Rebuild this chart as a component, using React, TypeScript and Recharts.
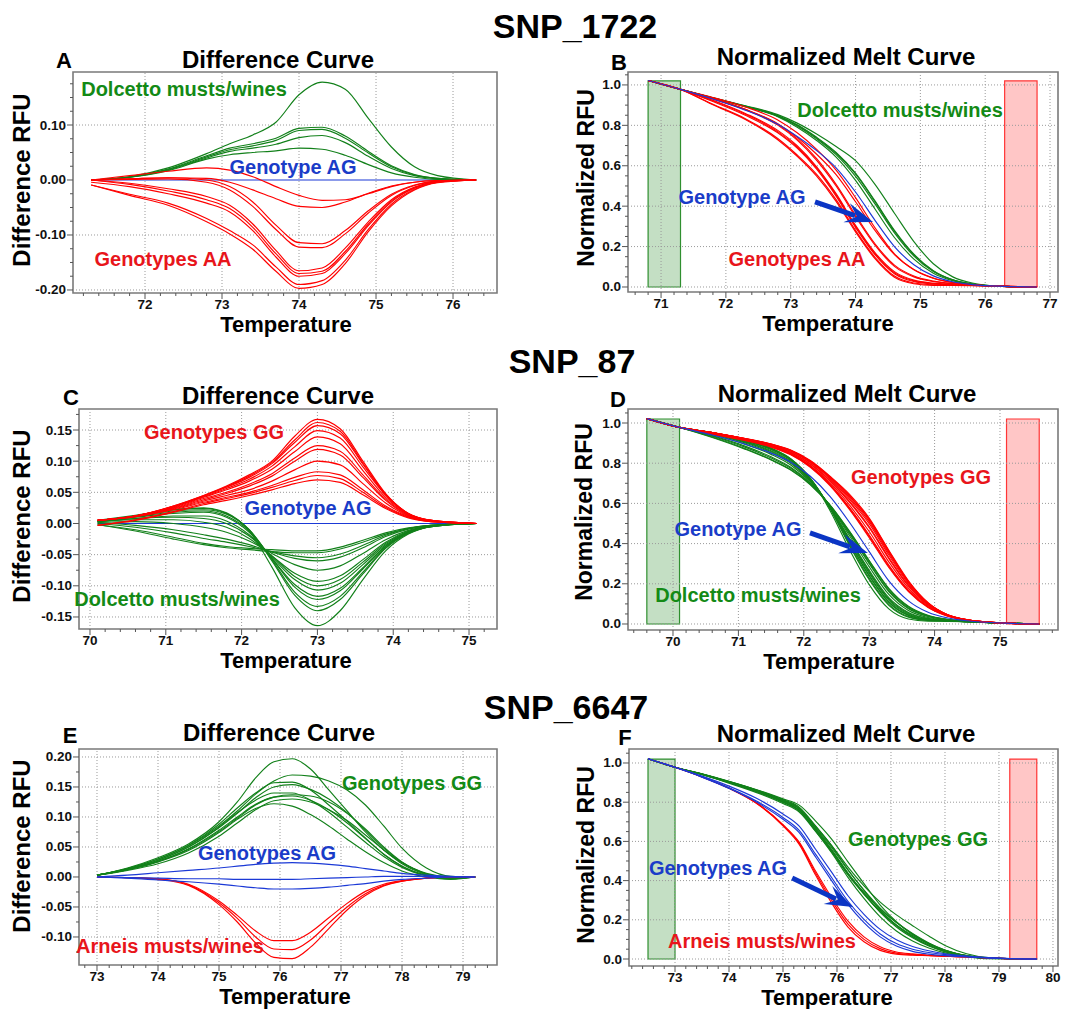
import React from 'react';
import { LineChart, Line, XAxis, YAxis, ReferenceLine, ReferenceArea } from 'recharts';

const FONT = "'Liberation Sans', Arial, Helvetica, sans-serif";
const GREEN = '#12801a';
const RED = '#ff0000';
const BLUE = '#1b39d6';
const GREEN_TXT = '#138a16';
const RED_TXT = '#e8151b';
const BLUE_TXT = '#1a3cc8';

// ================= SNP_1722 =================
const tempA = [71.3, 71.8, 72.3, 72.8, 73.1, 73.4, 73.7, 74.0, 74.3, 74.6, 74.9, 75.2, 75.5, 75.8, 76.3];
const agDiffA = [0, 0, 0, 0, 0, 0, 0, 0, 0, 0, 0, 0, 0, 0, 0];
const dolcettoDiffA = [
  [0, 0.006, 0.022, 0.048, 0.066, 0.082, 0.105, 0.155, 0.178, 0.165, 0.112, 0.060, 0.024, 0.008, 0],
  [0, 0.006, 0.020, 0.044, 0.058, 0.066, 0.076, 0.094, 0.096, 0.080, 0.052, 0.026, 0.010, 0.003, 0],
  [0, 0.005, 0.019, 0.042, 0.055, 0.062, 0.072, 0.090, 0.092, 0.076, 0.049, 0.024, 0.009, 0.003, 0],
  [0, 0.005, 0.018, 0.040, 0.052, 0.058, 0.065, 0.077, 0.081, 0.068, 0.043, 0.021, 0.008, 0.002, 0],
  [0, 0.005, 0.017, 0.038, 0.046, 0.050, 0.053, 0.058, 0.056, 0.045, 0.028, 0.013, 0.005, 0.001, 0],
];
const aaDiffA = [
  [0, 0.008, 0.016, 0.022, 0.018, 0.006, -0.012, -0.028, -0.037, -0.036, -0.025, -0.012, -0.004, -0.001, 0],
  [0, 0.002, 0.004, 0.003, -0.004, -0.018, -0.034, -0.048, -0.050, -0.040, -0.024, -0.011, -0.004, -0.001, 0],
  [0, 0.002, 0.004, 0.000, -0.012, -0.040, -0.082, -0.114, -0.116, -0.092, -0.056, -0.026, -0.009, -0.002, 0],
  [0, 0.001, 0.002, -0.004, -0.018, -0.048, -0.090, -0.122, -0.123, -0.098, -0.060, -0.028, -0.010, -0.002, 0],
  [0, -0.006, -0.016, -0.030, -0.046, -0.080, -0.128, -0.165, -0.160, -0.124, -0.076, -0.036, -0.013, -0.003, 0],
  [0, -0.008, -0.020, -0.036, -0.052, -0.086, -0.134, -0.170, -0.166, -0.130, -0.080, -0.038, -0.014, -0.003, 0],
  [-0.004, -0.012, -0.025, -0.042, -0.058, -0.092, -0.140, -0.175, -0.170, -0.134, -0.083, -0.040, -0.015, -0.004, 0],
  [-0.009, -0.026, -0.042, -0.070, -0.092, -0.118, -0.158, -0.190, -0.183, -0.146, -0.090, -0.044, -0.017, -0.004, 0],
  [-0.009, -0.028, -0.046, -0.076, -0.098, -0.126, -0.166, -0.197, -0.190, -0.152, -0.094, -0.047, -0.018, -0.005, 0],
];

const tempB = [70.8, 71.3, 71.8, 72.3, 72.8, 73.1, 73.4, 73.7, 74.0, 74.3, 74.6, 74.9, 75.2, 75.5, 75.8, 76.3, 76.8];
const agMeltB = [1.022, 0.978, 0.930, 0.875, 0.805, 0.745, 0.675, 0.590, 0.470, 0.330, 0.200, 0.110, 0.055, 0.026, 0.012, 0.003, 0];
const dolcettoMeltB = [
  [1.022, 0.978, 0.936, 0.897, 0.853, 0.811, 0.757, 0.695, 0.625, 0.508, 0.365, 0.225, 0.115, 0.050, 0.020, 0.003, 0],
  [1.022, 0.978, 0.936, 0.895, 0.849, 0.803, 0.741, 0.666, 0.564, 0.426, 0.280, 0.162, 0.081, 0.036, 0.015, 0.003, 0],
  [1.022, 0.978, 0.935, 0.894, 0.847, 0.800, 0.737, 0.662, 0.560, 0.422, 0.276, 0.159, 0.079, 0.035, 0.015, 0.003, 0],
  [1.022, 0.978, 0.935, 0.893, 0.845, 0.797, 0.733, 0.655, 0.547, 0.411, 0.268, 0.153, 0.076, 0.034, 0.014, 0.003, 0],
  [1.022, 0.978, 0.935, 0.892, 0.843, 0.791, 0.725, 0.643, 0.528, 0.386, 0.245, 0.138, 0.068, 0.031, 0.013, 0.003, 0],
];
const aaMeltB = [
  [1.022, 0.978, 0.938, 0.891, 0.827, 0.763, 0.681, 0.578, 0.442, 0.293, 0.164, 0.085, 0.043, 0.022, 0.011, 0.003, 0],
  [1.022, 0.978, 0.932, 0.879, 0.808, 0.741, 0.657, 0.556, 0.422, 0.280, 0.160, 0.086, 0.044, 0.022, 0.011, 0.003, 0],
  [1.022, 0.978, 0.932, 0.879, 0.805, 0.733, 0.635, 0.508, 0.356, 0.214, 0.108, 0.054, 0.029, 0.017, 0.010, 0.003, 0],
  [1.022, 0.978, 0.931, 0.877, 0.801, 0.727, 0.627, 0.500, 0.348, 0.207, 0.102, 0.050, 0.027, 0.016, 0.010, 0.003, 0],
  [1.022, 0.978, 0.924, 0.859, 0.775, 0.699, 0.595, 0.462, 0.305, 0.170, 0.076, 0.034, 0.019, 0.013, 0.009, 0.003, 0],
  [1.022, 0.978, 0.922, 0.855, 0.769, 0.693, 0.589, 0.456, 0.300, 0.164, 0.070, 0.030, 0.017, 0.012, 0.009, 0.003, 0],
  [1.022, 0.978, 0.918, 0.850, 0.763, 0.687, 0.583, 0.450, 0.295, 0.160, 0.066, 0.027, 0.015, 0.011, 0.008, 0.003, 0],
  [1.022, 0.978, 0.904, 0.833, 0.735, 0.653, 0.557, 0.432, 0.280, 0.147, 0.054, 0.020, 0.011, 0.009, 0.008, 0.003, 0],
  [1.022, 0.978, 0.902, 0.829, 0.729, 0.647, 0.549, 0.424, 0.273, 0.140, 0.048, 0.016, 0.008, 0.008, 0.007, 0.003, 0],
];

// ================= SNP_87 =================
const tempC = [70.1, 70.6, 71.1, 71.5, 71.8, 72.1, 72.4, 72.7, 73.0, 73.3, 73.6, 73.9, 74.2, 74.5, 75.1];
const agDiffC = [0, 0, 0, 0, 0, 0, 0, 0, 0, 0, 0, 0, 0, 0, 0];
const ggDiffC = [
  [0.005, 0.012, 0.028, 0.045, 0.060, 0.078, 0.100, 0.140, 0.167, 0.152, 0.100, 0.048, 0.016, 0.005, 0],
  [0.005, 0.012, 0.028, 0.045, 0.059, 0.076, 0.098, 0.134, 0.162, 0.148, 0.097, 0.047, 0.016, 0.005, 0],
  [0.005, 0.012, 0.027, 0.044, 0.058, 0.074, 0.096, 0.130, 0.157, 0.144, 0.095, 0.046, 0.016, 0.005, 0],
  [0.005, 0.012, 0.027, 0.043, 0.056, 0.071, 0.092, 0.123, 0.149, 0.137, 0.091, 0.045, 0.015, 0.005, 0],
  [0.005, 0.012, 0.026, 0.042, 0.054, 0.068, 0.087, 0.115, 0.139, 0.128, 0.085, 0.042, 0.015, 0.005, 0],
  [0.005, 0.012, 0.025, 0.040, 0.050, 0.063, 0.080, 0.105, 0.125, 0.116, 0.078, 0.039, 0.014, 0.004, 0],
  [0.005, 0.012, 0.024, 0.038, 0.048, 0.060, 0.076, 0.100, 0.119, 0.110, 0.074, 0.037, 0.013, 0.004, 0],
  [0.005, 0.011, 0.023, 0.036, 0.045, 0.054, 0.068, 0.086, 0.100, 0.094, 0.064, 0.033, 0.012, 0.004, 0],
  [0.005, 0.011, 0.022, 0.034, 0.042, 0.050, 0.061, 0.074, 0.083, 0.078, 0.054, 0.028, 0.011, 0.003, 0],
  [-0.003, 0.006, 0.019, 0.032, 0.040, 0.048, 0.058, 0.069, 0.077, 0.072, 0.050, 0.026, 0.010, 0.003, 0],
  [-0.003, 0.005, 0.018, 0.030, 0.037, 0.045, 0.054, 0.064, 0.070, 0.066, 0.046, 0.024, 0.009, 0.003, 0],
];
const dolcettoDiffC = [
  [-0.002, -0.010, -0.022, -0.032, -0.037, -0.040, -0.042, -0.044, -0.044, -0.038, -0.027, -0.015, -0.007, -0.003, 0],
  [-0.002, -0.012, -0.025, -0.034, -0.039, -0.042, -0.045, -0.047, -0.047, -0.041, -0.030, -0.017, -0.008, -0.003, 0],
  [0.000, -0.006, -0.015, -0.024, -0.030, -0.037, -0.045, -0.052, -0.055, -0.049, -0.035, -0.019, -0.008, -0.003, 0],
  [0.002, -0.003, -0.010, -0.018, -0.025, -0.034, -0.046, -0.056, -0.060, -0.054, -0.039, -0.021, -0.009, -0.003, 0],
  [0.002, 0.003, 0.000, -0.006, -0.014, -0.028, -0.048, -0.066, -0.075, -0.068, -0.048, -0.026, -0.011, -0.004, 0],
  [0.003, 0.006, 0.006, 0.002, -0.006, -0.024, -0.052, -0.080, -0.093, -0.084, -0.058, -0.030, -0.012, -0.004, 0],
  [0.003, 0.008, 0.010, 0.008, 0.000, -0.020, -0.052, -0.085, -0.100, -0.090, -0.062, -0.032, -0.013, -0.004, 0],
  [0.003, 0.008, 0.012, 0.012, 0.004, -0.018, -0.054, -0.090, -0.107, -0.096, -0.066, -0.034, -0.014, -0.004, 0],
  [0.004, 0.010, 0.016, 0.018, 0.010, -0.014, -0.056, -0.098, -0.117, -0.104, -0.071, -0.036, -0.014, -0.004, 0],
  [0.004, 0.011, 0.018, 0.020, 0.012, -0.012, -0.056, -0.102, -0.122, -0.108, -0.073, -0.037, -0.015, -0.005, 0],
  [0.004, 0.012, 0.020, 0.022, 0.015, -0.010, -0.058, -0.110, -0.133, -0.117, -0.078, -0.039, -0.015, -0.005, 0],
  [0.005, 0.013, 0.022, 0.024, 0.016, -0.010, -0.060, -0.115, -0.140, -0.122, -0.081, -0.040, -0.016, -0.005, 0],
  [0.004, 0.012, 0.022, 0.025, 0.017, -0.012, -0.070, -0.135, -0.164, -0.140, -0.090, -0.044, -0.017, -0.005, 0],
];

const tempD = [69.6, 70.1, 70.6, 71.1, 71.5, 71.8, 72.1, 72.4, 72.7, 73.0, 73.3, 73.6, 73.9, 74.2, 74.5, 75.1, 75.6];
const agMeltD = [1.022, 0.978, 0.940, 0.895, 0.850, 0.805, 0.735, 0.635, 0.505, 0.360, 0.215, 0.115, 0.058, 0.030, 0.016, 0.004, 0];
const ggMeltD = [
  [1.022, 0.978, 0.952, 0.923, 0.895, 0.865, 0.813, 0.735, 0.645, 0.527, 0.367, 0.215, 0.106, 0.046, 0.021, 0.004, 0],
  [1.022, 0.978, 0.952, 0.923, 0.895, 0.864, 0.811, 0.733, 0.639, 0.522, 0.363, 0.212, 0.105, 0.046, 0.021, 0.004, 0],
  [1.022, 0.978, 0.952, 0.922, 0.894, 0.863, 0.809, 0.731, 0.635, 0.517, 0.359, 0.210, 0.104, 0.046, 0.021, 0.004, 0],
  [1.022, 0.978, 0.952, 0.922, 0.893, 0.861, 0.806, 0.727, 0.628, 0.509, 0.352, 0.206, 0.103, 0.045, 0.021, 0.004, 0],
  [1.022, 0.978, 0.952, 0.921, 0.892, 0.859, 0.803, 0.722, 0.620, 0.499, 0.343, 0.200, 0.100, 0.045, 0.021, 0.004, 0],
  [1.022, 0.978, 0.952, 0.920, 0.890, 0.855, 0.798, 0.715, 0.610, 0.485, 0.331, 0.193, 0.097, 0.044, 0.020, 0.004, 0],
  [1.022, 0.978, 0.952, 0.919, 0.888, 0.853, 0.795, 0.711, 0.605, 0.479, 0.325, 0.189, 0.095, 0.043, 0.020, 0.004, 0],
  [1.022, 0.978, 0.951, 0.918, 0.886, 0.850, 0.789, 0.703, 0.591, 0.460, 0.309, 0.179, 0.091, 0.042, 0.020, 0.004, 0],
  [1.022, 0.978, 0.951, 0.917, 0.884, 0.847, 0.785, 0.696, 0.579, 0.443, 0.293, 0.169, 0.086, 0.041, 0.019, 0.004, 0],
  [1.022, 0.978, 0.946, 0.914, 0.882, 0.845, 0.783, 0.693, 0.574, 0.437, 0.287, 0.165, 0.084, 0.040, 0.019, 0.004, 0],
  [1.022, 0.978, 0.945, 0.913, 0.880, 0.842, 0.780, 0.689, 0.569, 0.430, 0.281, 0.161, 0.082, 0.039, 0.019, 0.004, 0],
];
const dolcettoMeltD = [
  [1.022, 0.978, 0.930, 0.873, 0.818, 0.768, 0.695, 0.593, 0.461, 0.316, 0.177, 0.088, 0.043, 0.023, 0.013, 0.004, 0],
  [1.022, 0.978, 0.928, 0.870, 0.816, 0.766, 0.693, 0.590, 0.458, 0.313, 0.174, 0.085, 0.041, 0.022, 0.013, 0.004, 0],
  [1.022, 0.978, 0.934, 0.880, 0.826, 0.775, 0.698, 0.590, 0.453, 0.305, 0.166, 0.080, 0.039, 0.022, 0.013, 0.004, 0],
  [1.022, 0.978, 0.937, 0.885, 0.832, 0.780, 0.701, 0.589, 0.449, 0.300, 0.161, 0.076, 0.037, 0.021, 0.013, 0.004, 0],
  [1.022, 0.978, 0.943, 0.895, 0.844, 0.791, 0.707, 0.587, 0.439, 0.285, 0.147, 0.067, 0.032, 0.019, 0.012, 0.004, 0],
  [1.022, 0.978, 0.946, 0.901, 0.852, 0.799, 0.711, 0.583, 0.425, 0.267, 0.131, 0.057, 0.028, 0.018, 0.012, 0.004, 0],
  [1.022, 0.978, 0.948, 0.905, 0.858, 0.805, 0.715, 0.583, 0.420, 0.260, 0.125, 0.053, 0.026, 0.017, 0.012, 0.004, 0],
  [1.022, 0.978, 0.948, 0.907, 0.862, 0.809, 0.717, 0.581, 0.415, 0.253, 0.119, 0.049, 0.024, 0.016, 0.012, 0.004, 0],
  [1.022, 0.978, 0.950, 0.911, 0.868, 0.815, 0.721, 0.579, 0.407, 0.243, 0.111, 0.044, 0.022, 0.016, 0.012, 0.004, 0],
  [1.022, 0.978, 0.951, 0.913, 0.870, 0.817, 0.723, 0.579, 0.403, 0.238, 0.107, 0.042, 0.021, 0.015, 0.011, 0.004, 0],
  [1.022, 0.978, 0.952, 0.915, 0.872, 0.820, 0.725, 0.577, 0.395, 0.227, 0.098, 0.037, 0.019, 0.015, 0.011, 0.004, 0],
  [1.022, 0.978, 0.953, 0.917, 0.874, 0.821, 0.725, 0.575, 0.390, 0.220, 0.093, 0.034, 0.018, 0.014, 0.011, 0.004, 0],
  [1.022, 0.978, 0.952, 0.917, 0.875, 0.822, 0.723, 0.565, 0.370, 0.196, 0.075, 0.025, 0.014, 0.013, 0.011, 0.004, 0],
];

// ================= SNP_6647 =================
const tempE = [73.0, 73.5, 74.0, 74.5, 75.0, 75.3, 75.6, 75.9, 76.2, 76.5, 76.8, 77.1, 77.4, 77.7, 78.0, 78.4, 78.8, 79.2];
const ggDiffE = [
  [0.003, 0.015, 0.032, 0.055, 0.092, 0.125, 0.165, 0.192, 0.197, 0.180, 0.145, 0.110, 0.075, 0.045, 0.024, 0.006, 0.000, 0],
  [0.003, 0.014, 0.030, 0.052, 0.085, 0.110, 0.138, 0.160, 0.170, 0.168, 0.160, 0.145, 0.120, 0.085, 0.048, 0.015, 0.001, 0],
  [0.003, 0.014, 0.030, 0.053, 0.088, 0.115, 0.140, 0.157, 0.158, 0.145, 0.120, 0.093, 0.065, 0.038, 0.018, 0.003, -0.002, 0],
  [0.003, 0.013, 0.028, 0.050, 0.082, 0.106, 0.132, 0.150, 0.154, 0.146, 0.130, 0.107, 0.078, 0.048, 0.024, 0.005, -0.002, 0],
  [0.003, 0.013, 0.028, 0.050, 0.083, 0.107, 0.128, 0.140, 0.140, 0.128, 0.108, 0.083, 0.058, 0.034, 0.016, 0.002, -0.003, 0],
  [0.003, 0.012, 0.026, 0.046, 0.076, 0.098, 0.120, 0.133, 0.137, 0.135, 0.125, 0.106, 0.080, 0.050, 0.025, 0.005, -0.002, 0],
  [0.003, 0.012, 0.026, 0.047, 0.078, 0.100, 0.121, 0.133, 0.135, 0.128, 0.112, 0.090, 0.064, 0.038, 0.018, 0.002, -0.003, 0],
  [0.003, 0.012, 0.025, 0.044, 0.074, 0.096, 0.114, 0.122, 0.118, 0.104, 0.085, 0.063, 0.042, 0.024, 0.010, 0.000, -0.004, 0],
  [0.003, 0.011, 0.022, 0.040, 0.068, 0.090, 0.112, 0.127, 0.130, 0.125, 0.112, 0.094, 0.070, 0.045, 0.022, 0.004, -0.002, 0],
];
const agDiffE = [
  [0, 0.003, 0.007, 0.011, 0.015, 0.018, 0.021, 0.023, 0.024, 0.023, 0.021, 0.018, 0.014, 0.010, 0.006, 0.003, 0.001, 0],
  [0, -0.001, -0.002, -0.003, -0.003, -0.004, -0.004, -0.004, -0.004, -0.003, -0.002, -0.001, 0, 0.001, 0.001, 0.001, 0, 0],
  [0, -0.002, -0.005, -0.008, -0.012, -0.015, -0.018, -0.020, -0.020, -0.019, -0.017, -0.014, -0.011, -0.007, -0.004, -0.002, 0, 0],
];
const arneisDiffE = [
  [0, -0.001, -0.003, -0.012, -0.040, -0.064, -0.090, -0.106, -0.106, -0.092, -0.068, -0.044, -0.024, -0.012, -0.006, -0.002, 0, 0],
  [0, -0.001, -0.003, -0.013, -0.043, -0.069, -0.100, -0.120, -0.121, -0.105, -0.077, -0.050, -0.028, -0.014, -0.007, -0.002, 0, 0],
  [0, -0.001, -0.004, -0.014, -0.046, -0.075, -0.110, -0.134, -0.136, -0.117, -0.086, -0.055, -0.031, -0.015, -0.007, -0.002, 0, 0],
];

const tempF = [72.5, 73.0, 73.5, 74.0, 74.5, 75.0, 75.3, 75.6, 75.9, 76.2, 76.5, 76.8, 77.1, 77.4, 77.7, 78.0, 78.4, 78.8, 79.2, 79.7];
const ggMeltF = [
  [1.022, 0.978, 0.945, 0.907, 0.865, 0.817, 0.785, 0.705, 0.612, 0.497, 0.385, 0.275, 0.190, 0.125, 0.077, 0.045, 0.018, 0.006, 0.002, 0],
  [1.022, 0.978, 0.944, 0.905, 0.862, 0.810, 0.770, 0.678, 0.580, 0.470, 0.373, 0.290, 0.225, 0.170, 0.117, 0.069, 0.027, 0.007, 0.002, 0],
  [1.022, 0.978, 0.944, 0.905, 0.863, 0.813, 0.775, 0.680, 0.577, 0.458, 0.350, 0.250, 0.173, 0.115, 0.070, 0.039, 0.015, 0.004, 0.002, 0],
  [1.022, 0.978, 0.943, 0.903, 0.860, 0.807, 0.766, 0.672, 0.570, 0.454, 0.351, 0.260, 0.187, 0.128, 0.080, 0.045, 0.017, 0.004, 0.002, 0],
  [1.022, 0.978, 0.943, 0.903, 0.860, 0.808, 0.767, 0.668, 0.560, 0.440, 0.333, 0.238, 0.163, 0.108, 0.066, 0.037, 0.014, 0.003, 0.002, 0],
  [1.022, 0.978, 0.942, 0.901, 0.856, 0.801, 0.758, 0.660, 0.553, 0.437, 0.340, 0.255, 0.186, 0.130, 0.082, 0.046, 0.017, 0.004, 0.002, 0],
  [1.022, 0.978, 0.942, 0.901, 0.857, 0.803, 0.760, 0.661, 0.553, 0.435, 0.333, 0.242, 0.170, 0.114, 0.070, 0.039, 0.014, 0.003, 0.002, 0],
  [1.022, 0.978, 0.942, 0.900, 0.854, 0.799, 0.756, 0.654, 0.542, 0.418, 0.309, 0.215, 0.143, 0.092, 0.056, 0.031, 0.012, 0.002, 0.002, 0],
  [1.022, 0.978, 0.941, 0.897, 0.850, 0.793, 0.750, 0.652, 0.547, 0.430, 0.330, 0.242, 0.174, 0.120, 0.077, 0.043, 0.016, 0.004, 0.002, 0],
];
const agMeltF = [
  [1.022, 0.978, 0.933, 0.882, 0.821, 0.740, 0.678, 0.561, 0.443, 0.324, 0.228, 0.151, 0.098, 0.064, 0.042, 0.027, 0.015, 0.007, 0.002, 0],
  [1.022, 0.978, 0.929, 0.873, 0.807, 0.722, 0.656, 0.536, 0.416, 0.296, 0.202, 0.128, 0.079, 0.050, 0.033, 0.022, 0.013, 0.006, 0.002, 0],
  [1.022, 0.978, 0.928, 0.870, 0.802, 0.713, 0.645, 0.522, 0.400, 0.280, 0.186, 0.113, 0.066, 0.039, 0.025, 0.017, 0.010, 0.006, 0.002, 0],
];
const arneisMeltF = [
  [1.022, 0.978, 0.929, 0.872, 0.798, 0.685, 0.596, 0.450, 0.314, 0.194, 0.113, 0.062, 0.036, 0.026, 0.020, 0.015, 0.010, 0.006, 0.002, 0],
  [1.022, 0.978, 0.929, 0.872, 0.797, 0.682, 0.591, 0.440, 0.300, 0.179, 0.100, 0.053, 0.030, 0.022, 0.018, 0.014, 0.010, 0.006, 0.002, 0],
  [1.022, 0.978, 0.929, 0.871, 0.796, 0.679, 0.585, 0.430, 0.286, 0.164, 0.088, 0.044, 0.025, 0.019, 0.017, 0.014, 0.010, 0.006, 0.002, 0],
];

// ================= axes =================
const xTicksA = [72, 73, 74, 75, 76];
const xTicksB = [71, 72, 73, 74, 75, 76, 77];
const xTicksC = [70, 71, 72, 73, 74, 75];
const xTicksE = [73, 74, 75, 76, 77, 78, 79];
const xTicksF = [73, 74, 75, 76, 77, 78, 79, 80];
const yTicksA = [-0.2, -0.1, 0, 0.1];
const yLabelsA = ['-0.20', '-0.10', '0.00', '0.10'];
const yTicksC = [-0.15, -0.1, -0.05, 0, 0.05, 0.1, 0.15];
const yLabelsC = ['-0.15', '-0.10', '-0.05', '0.00', '0.05', '0.10', '0.15'];
const yTicksE = [-0.1, -0.05, 0, 0.05, 0.1, 0.15, 0.2];
const yLabelsE = ['-0.10', '-0.05', '0.00', '0.05', '0.10', '0.15', '0.20'];
const yTicksMelt = [0, 0.2, 0.4, 0.6, 0.8, 1.0];
const yLabelsMelt = ['0.0', '0.2', '0.4', '0.6', '0.8', '1.0'];

type Series = { values: number[]; color: string };
type Region = { x1: number; x2: number; fill: string; stroke: string };
type Arrow = { x1: number; y1: number; x2: number; y2: number };
type Cfg = {
  left: number; top: number; width: number; height: number;
  temps: number[]; series: Series[];
  xDomain: [number, number]; yDomain: [number, number];
  xTicks: number[]; xLabels: string[]; yTicks: number[]; yLabels: string[];
  xMinor: number; yMinor: number; skipZeroGrid?: boolean;
  regions?: Region[]; arrow?: Arrow;
};

const group = (arr: number[][], color: string): Series[] => arr.map((values) => ({ values, color }));

function minorTicks(domain: [number, number], step: number): number[] {
  const out: number[] = [];
  const start = Math.ceil(domain[0] / step - 1e-9);
  for (let k = start; k * step <= domain[1] + 1e-9; k++) out.push(Math.round(k * step * 10000) / 10000);
  return out;
}

const idxOf = (arr: number[], v: number) => arr.findIndex((m) => Math.abs(m - v) < 1e-6);

const XTick = (props: any) => {
  const { x, y, payload, majors, labels } = props;
  const i = idxOf(majors, payload.value);
  return (
    <g>
      <line x1={x} x2={x} y1={y} y2={y + (i >= 0 ? 6 : 3)} stroke="#555" strokeWidth={1} />
      {i >= 0 && (
        <text x={x} y={y + 16} textAnchor="middle" fontSize={13.5} fontWeight="bold" fill="#111" fontFamily={FONT}>
          {labels[i]}
        </text>
      )}
    </g>
  );
};

const YTick = (props: any) => {
  const { x, y, payload, majors, labels } = props;
  const i = idxOf(majors, payload.value);
  return (
    <g>
      <line x1={x} x2={x - (i >= 0 ? 6 : 3)} y1={y} y2={y} stroke="#555" strokeWidth={1} />
      {i >= 0 && (
        <text x={x - 7} y={y + 4.5} textAnchor="end" fontSize={13.5} fontWeight="bold" fill="#111" fontFamily={FONT}>
          {labels[i]}
        </text>
      )}
    </g>
  );
};

const ArrowShape = (p: any) => {
  const { x1, y1, x2, y2 } = p;
  const dx = x2 - x1;
  const dy = y2 - y1;
  const len = Math.sqrt(dx * dx + dy * dy) || 1;
  const ux = dx / len, uy = dy / len;
  const nx = -uy, ny = ux;
  const hb = 28, notch = 17, w = 10;
  const bx = x2 - hb * ux, by = y2 - hb * uy;
  const pts = [
    [x2, y2],
    [bx + w * nx, by + w * ny],
    [x2 - notch * ux, y2 - notch * uy],
    [bx - w * nx, by - w * ny],
  ].map((q) => q.join(',')).join(' ');
  return (
    <g>
      <line x1={x1} y1={y1} x2={x2 - (notch + 2) * ux} y2={y2 - (notch + 2) * uy} stroke="#0b35c4" strokeWidth={5} />
      <polygon points={pts} fill="#0b35c4" />
    </g>
  );
};

function Panel({ cfg }: { cfg: Cfg }) {
  const L = 50, T = 6, R = 6, B = 30;
  const rows = cfg.temps.map((t, i) => {
    const r: any = { t };
    cfg.series.forEach((s, j) => { r['s' + j] = s.values[i]; });
    return r;
  });
  const xAll = minorTicks(cfg.xDomain, cfg.xMinor);
  const yAll = minorTicks(cfg.yDomain, cfg.yMinor);
  const yGrid = cfg.skipZeroGrid ? cfg.yTicks.filter((v) => v !== 0) : cfg.yTicks;
  return (
    <div style={{ position: 'absolute', left: cfg.left - L, top: cfg.top - T }}>
      <LineChart width={cfg.width + L + R} height={cfg.height + T + B} data={rows} margin={{ top: T, right: R, bottom: 0, left: 0 }}>
        <XAxis
          type="number" dataKey="t" domain={cfg.xDomain} allowDataOverflow ticks={xAll} interval={0}
          height={B} tickLine={false} axisLine={false} tickSize={0} tickMargin={0}
          tick={(p: any) => <XTick {...p} majors={cfg.xTicks} labels={cfg.xLabels} />}
        />
        <YAxis
          type="number" domain={cfg.yDomain} allowDataOverflow ticks={yAll} interval={0}
          width={L} tickLine={false} axisLine={false} tickSize={0} tickMargin={0}
          tick={(p: any) => <YTick {...p} majors={cfg.yTicks} labels={cfg.yLabels} />}
        />
        {(cfg.regions || []).map((r, i) => (
          <ReferenceArea key={'reg' + i} x1={r.x1} x2={r.x2} y1={0} y2={1.02} fill={r.fill} fillOpacity={1} stroke={r.stroke} strokeWidth={1.2} ifOverflow="visible" />
        ))}
        {cfg.xTicks.map((v) => (
          <ReferenceLine key={'gx' + v} x={v} stroke="#9a9a9a" strokeWidth={1} strokeDasharray="1 2" />
        ))}
        {yGrid.map((v) => (
          <ReferenceLine key={'gy' + v} y={v} stroke="#9a9a9a" strokeWidth={1} strokeDasharray="1 2" />
        ))}
        {cfg.series.map((s, j) => (
          <Line key={'s' + j} dataKey={'s' + j} type="monotone" stroke={s.color} strokeWidth={1.15} dot={false} activeDot={false} isAnimationActive={false} />
        ))}
        <ReferenceArea x1={cfg.xDomain[0]} x2={cfg.xDomain[1]} y1={cfg.yDomain[0]} y2={cfg.yDomain[1]} fill="none" stroke="#7a7a7a" strokeWidth={1.6} ifOverflow="visible" />
        {cfg.arrow && (
          <ReferenceLine
            segment={[{ x: cfg.arrow.x1, y: cfg.arrow.y1 }, { x: cfg.arrow.x2, y: cfg.arrow.y2 }]}
            shape={ArrowShape} ifOverflow="visible"
          />
        )}
      </LineChart>
    </div>
  );
}

const labelsOf = (arr: number[]) => arr.map((v) => String(v));

const GREEN_REGION = { fill: '#c4dfc4', stroke: '#2f8f2f' };
const RED_REGION = { fill: '#ffc6c6', stroke: '#ff3535' };

const panels: Cfg[] = [
  {
    left: 73, top: 72, width: 424, height: 221, temps: tempA,
    series: [...group([agDiffA], BLUE), ...group(dolcettoDiffA, GREEN), ...group(aaDiffA, RED)],
    xDomain: [71.065, 76.571], yDomain: [-0.2055, 0.1964], skipZeroGrid: true,
    xTicks: xTicksA, xLabels: labelsOf(xTicksA), yTicks: yTicksA, yLabels: yLabelsA, xMinor: 0.2, yMinor: 0.025,
  },
  {
    left: 628, top: 72, width: 430, height: 220, temps: tempB,
    series: [...group(dolcettoMeltB, GREEN), ...group(aaMeltB, RED), ...group([agMeltB], BLUE)],
    xDomain: [70.49, 77.123], yDomain: [-0.0248, 1.064],
    xTicks: xTicksB, xLabels: labelsOf(xTicksB), yTicks: yTicksMelt, yLabels: yLabelsMelt, xMinor: 0.2, yMinor: 0.05,
    regions: [{ x1: 70.8, x2: 71.3, ...GREEN_REGION }, { x1: 76.3, x2: 76.8, ...RED_REGION }],
    arrow: { x1: 73.375, y1: 0.421, x2: 74.27, y2: 0.322 },
  },
  {
    left: 79, top: 409, width: 418, height: 220, temps: tempC,
    series: [...group([agDiffC], BLUE), ...group(dolcettoDiffC, GREEN), ...group(ggDiffC, RED)],
    xDomain: [69.855, 75.369], yDomain: [-0.1693, 0.1837], skipZeroGrid: true,
    xTicks: xTicksC, xLabels: labelsOf(xTicksC), yTicks: yTicksC, yLabels: yLabelsC, xMinor: 0.2, yMinor: 0.025,
  },
  {
    left: 628, top: 409, width: 430, height: 221, temps: tempD,
    series: [...group(dolcettoMeltD, GREEN), ...group(ggMeltD, RED), ...group([agMeltD], BLUE)],
    xDomain: [69.312, 75.887], yDomain: [-0.0299, 1.0697],
    xTicks: xTicksC, xLabels: labelsOf(xTicksC), yTicks: yTicksMelt, yLabels: yLabelsMelt, xMinor: 0.2, yMinor: 0.05,
    regions: [{ x1: 69.6, x2: 70.1, ...GREEN_REGION }, { x1: 75.1, x2: 75.6, ...RED_REGION }],
    arrow: { x1: 72.095, y1: 0.453, x2: 72.98, y2: 0.353 },
  },
  {
    left: 79, top: 749, width: 418, height: 216, temps: tempE,
    series: [...group(ggDiffE, GREEN), ...group(arneisDiffE, RED), ...group(agDiffE, BLUE)],
    xDomain: [72.705, 79.557], yDomain: [-0.1467, 0.2133], skipZeroGrid: true,
    xTicks: xTicksE, xLabels: labelsOf(xTicksE), yTicks: yTicksE, yLabels: yLabelsE, xMinor: 0.2, yMinor: 0.025,
  },
  {
    left: 629, top: 749, width: 429, height: 217, temps: tempF,
    series: [...group(ggMeltF, GREEN), ...group(arneisMeltF, RED), ...group(agMeltF, BLUE)],
    xDomain: [72.148, 80.093], yDomain: [-0.0357, 1.0714],
    xTicks: xTicksF, xLabels: labelsOf(xTicksF), yTicks: yTicksMelt, yLabels: yLabelsMelt, xMinor: 0.2, yMinor: 0.05,
    regions: [{ x1: 72.5, x2: 73.0, ...GREEN_REGION }, { x1: 79.2, x2: 79.7, ...RED_REGION }],
    arrow: { x1: 75.17, y1: 0.413, x2: 76.3, y2: 0.265 },
  },
];

type Txt = { x: number; y: number; s: string; size: number; color?: string; rot?: boolean };
const texts: Txt[] = [
  { x: 575, y: 26, s: 'SNP_1722', size: 34 },
  { x: 572, y: 361, s: 'SNP_87', size: 34 },
  { x: 566, y: 707, s: 'SNP_6647', size: 34 },
  // A
  { x: 64, y: 61, s: 'A', size: 22 },
  { x: 278, y: 60, s: 'Difference Curve', size: 24 },
  { x: 22, y: 180, s: 'Difference RFU', size: 24, rot: true },
  { x: 286, y: 324.5, s: 'Temperature', size: 22 },
  { x: 184, y: 90, s: 'Dolcetto musts/wines', size: 20, color: GREEN_TXT },
  { x: 293, y: 168, s: 'Genotype AG', size: 20, color: BLUE_TXT },
  { x: 163, y: 260, s: 'Genotypes AA', size: 20, color: RED_TXT },
  // B
  { x: 619, y: 63, s: 'B', size: 22 },
  { x: 846, y: 57, s: 'Normalized Melt Curve', size: 24 },
  { x: 587, y: 178, s: 'Normalized RFU', size: 23, rot: true },
  { x: 828, y: 323.5, s: 'Temperature', size: 22 },
  { x: 900, y: 111, s: 'Dolcetto musts/wines', size: 20, color: GREEN_TXT },
  { x: 742, y: 198, s: 'Genotype AG', size: 20, color: BLUE_TXT },
  { x: 797, y: 260, s: 'Genotypes AA', size: 20, color: RED_TXT },
  // C
  { x: 71, y: 398, s: 'C', size: 22 },
  { x: 278, y: 396, s: 'Difference Curve', size: 24 },
  { x: 22, y: 516, s: 'Difference RFU', size: 24, rot: true },
  { x: 286, y: 660.5, s: 'Temperature', size: 22 },
  { x: 214, y: 433, s: 'Genotypes GG', size: 20, color: RED_TXT },
  { x: 308, y: 509, s: 'Genotype AG', size: 20, color: BLUE_TXT },
  { x: 177, y: 600, s: 'Dolcetto musts/wines', size: 20, color: GREEN_TXT },
  // D
  { x: 618, y: 400, s: 'D', size: 22 },
  { x: 847, y: 394, s: 'Normalized Melt Curve', size: 24 },
  { x: 585, y: 512, s: 'Normalized RFU', size: 23, rot: true },
  { x: 829, y: 661.5, s: 'Temperature', size: 22 },
  { x: 921, y: 478, s: 'Genotypes GG', size: 20, color: RED_TXT },
  { x: 738, y: 530, s: 'Genotype AG', size: 20, color: BLUE_TXT },
  { x: 758, y: 596, s: 'Dolcetto musts/wines', size: 20, color: GREEN_TXT },
  // E
  { x: 70, y: 736, s: 'E', size: 22 },
  { x: 279, y: 733, s: 'Difference Curve', size: 24 },
  { x: 22, y: 846, s: 'Difference RFU', size: 24, rot: true },
  { x: 285, y: 996.5, s: 'Temperature', size: 22 },
  { x: 412, y: 784, s: 'Genotypes GG', size: 20, color: GREEN_TXT },
  { x: 267, y: 854, s: 'Genotypes AG', size: 20, color: BLUE_TXT },
  { x: 170, y: 947, s: 'Arneis musts/wines', size: 20, color: RED_TXT },
  // F
  { x: 625, y: 738, s: 'F', size: 22 },
  { x: 846, y: 734, s: 'Normalized Melt Curve', size: 24 },
  { x: 587, y: 855, s: 'Normalized RFU', size: 23, rot: true },
  { x: 827, y: 997.5, s: 'Temperature', size: 22 },
  { x: 918, y: 840, s: 'Genotypes GG', size: 20, color: GREEN_TXT },
  { x: 718, y: 869, s: 'Genotypes AG', size: 20, color: BLUE_TXT },
  { x: 762, y: 942, s: 'Arneis musts/wines', size: 20, color: RED_TXT },
];

export default function App() {
  return (
    <div style={{ position: 'absolute', left: 0, top: 0, width: 1076, height: 1009, background: '#fff', fontFamily: FONT, overflow: 'hidden' }}>
      {panels.map((cfg, i) => <Panel key={i} cfg={cfg} />)}
      {texts.map((t, i) => (
        <div
          key={'t' + i}
          style={{
            position: 'absolute', left: t.x, top: t.y,
            transform: `translate(-50%, -50%)${t.rot ? ' rotate(-90deg)' : ''}`,
            fontSize: t.size, fontWeight: 700, color: t.color || '#000', whiteSpace: 'nowrap', lineHeight: 0.78, fontFamily: FONT,
          }}
        >
          {t.s}
        </div>
      ))}
    </div>
  );
}
